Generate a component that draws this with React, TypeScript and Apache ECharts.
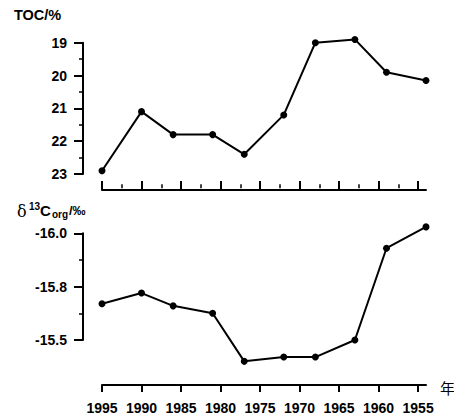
import React, { useEffect, useRef } from "react";
import * as echarts from "echarts";

const years = [1995, 1990, 1986, 1981, 1977, 1972, 1968, 1963, 1959, 1954];
const tocValues = [22.9, 21.1, 21.8, 21.8, 22.4, 21.2, 19.0, 18.9, 19.9, 20.15];
const d13cValues = [-15.67, -15.72, -15.66, -15.625, -15.4, -15.42, -15.42, -15.5, -15.93, -16.03];
const yearTicks = [1995, 1990, 1985, 1980, 1975, 1970, 1965, 1960, 1955];
const yearMinorTicks = [1992.5, 1987.5, 1982.5, 1977.5, 1972.5, 1967.5, 1962.5, 1957.5];
const tocTicks = [19, 20, 21, 22, 23];
const d13cTickLabels = ["-16.0", "-15.8", "-15.5"];

const FONT = "'Liberation Sans', Arial, sans-serif";

export default function App() {
  const ref = useRef<HTMLDivElement>(null);
  useEffect(() => {
    if (!ref.current) return;
    const chart = echarts.init(ref.current, null, { renderer: "svg" });
    const lineStyle = { color: "#000", width: 2 };
    const xBase = {
      type: "value",
      min: -1995,
      max: -1954,
      interval: 5,
      splitLine: { show: false },
    };
    const option = {
      animation: false,
      backgroundColor: "#fff",
      grid: [
        { left: 102, right: 28, top: 42.7, bottom: 245 },
        { left: 102, right: 28, top: 233.3, bottom: 79 },
      ],
      xAxis: [
        {
          ...xBase,
          gridIndex: 0,
          offset: 16,
          axisLine: { show: true, lineStyle: { color: "#000", width: 2 } },
          axisTick: {
            show: true,
            inside: true,
            length: 9,
            lineStyle: { color: "#000", width: 2 },
            customValues: yearTicks.map((y) => -y),
          },
          axisLabel: { show: false },
        },
        {
          ...xBase,
          gridIndex: 1,
          offset: 45,
          axisLine: { show: true, lineStyle: { color: "#000", width: 2 } },
          axisTick: {
            show: true,
            inside: false,
            length: 7,
            lineStyle: { color: "#000", width: 2 },
            customValues: yearTicks.map((y) => -y),
          },
          axisLabel: {
            show: true,
            margin: 16,
            color: "#000",
            fontFamily: FONT,
            fontWeight: "bold",
            fontSize: 14,
            customValues: yearTicks.map((y) => -y),
            formatter: (v: number) => String(-v),
          },
        },
        {
          ...xBase,
          gridIndex: 1,
          offset: 45,
          axisLine: { show: false },
          axisTick: {
            show: true,
            inside: false,
            length: 4,
            lineStyle: { color: "#000", width: 1.5 },
            customValues: yearMinorTicks.map((y) => -y),
          },
          axisLabel: { show: false },
        },
      ],
      yAxis: [
        {
          type: "value",
          gridIndex: 0,
          min: 19,
          max: 23,
          interval: 1,
          inverse: true,
          offset: 19,
          splitLine: { show: false },
          axisLine: { show: true, lineStyle: { color: "#000", width: 2 } },
          axisTick: { show: true, length: 9, lineStyle: { color: "#000", width: 2 } },
          minorTick: { show: true, splitNumber: 2, length: 4, lineStyle: { color: "#000", width: 1.5 } },
          axisLabel: {
            margin: 16,
            color: "#000",
            fontFamily: FONT,
            fontWeight: "bold",
            fontSize: 14,
            formatter: (v: number) => {
              const i = tocTicks.indexOf(v);
              return i >= 0 ? String(tocTicks[i]) : "";
            },
          },
        },
        {
          type: "value",
          gridIndex: 1,
          min: -16,
          max: -15.5,
          interval: 0.25,
          inverse: true,
          offset: 19,
          splitLine: { show: false },
          axisLine: { show: true, lineStyle: { color: "#000", width: 2 } },
          axisTick: { show: true, length: 9, lineStyle: { color: "#000", width: 2 } },
          minorTick: { show: true, splitNumber: 2, length: 4, lineStyle: { color: "#000", width: 1.5 } },
          axisLabel: {
            margin: 16,
            color: "#000",
            fontFamily: FONT,
            fontWeight: "bold",
            fontSize: 14,
            formatter: (v: number) => {
              const idx = Math.round((v + 16) / 0.25);
              return d13cTickLabels[idx] ?? "";
            },
          },
        },
      ],
      series: [
        {
          type: "line",
          xAxisIndex: 0,
          yAxisIndex: 0,
          clip: false,
          data: years.map((y, i) => [-y, tocValues[i]]),
          symbol: "circle",
          symbolSize: 7,
          itemStyle: { color: "#000" },
          lineStyle,
        },
        {
          type: "line",
          xAxisIndex: 1,
          yAxisIndex: 1,
          clip: false,
          data: years.map((y, i) => [-y, d13cValues[i]]),
          symbol: "circle",
          symbolSize: 7,
          itemStyle: { color: "#000" },
          lineStyle,
        },
      ],
      graphic: [
        {
          type: "text",
          x: 14,
          y: 15,
          style: { text: "TOC/%", font: `bold 14.5px ${FONT}`, fill: "#000", verticalAlign: "middle" },
        },
        {
          type: "text",
          x: 17,
          y: 211,
          style: { text: "δ", font: `16px 'DejaVu Serif', serif`, fill: "#000", verticalAlign: "middle" },
        },
        {
          type: "text",
          x: 29,
          y: 206,
          style: { text: "13", font: `bold 10px ${FONT}`, fill: "#000", verticalAlign: "middle" },
        },
        {
          type: "text",
          x: 40,
          y: 210,
          style: { text: "C", font: `bold 15px ${FONT}`, fill: "#000", verticalAlign: "middle" },
        },
        {
          type: "text",
          x: 52,
          y: 214,
          style: { text: "org", font: `bold 10px ${FONT}`, fill: "#000", verticalAlign: "middle" },
        },
        {
          type: "text",
          x: 69,
          y: 210,
          style: { text: "/‰", font: `bold 13px ${FONT}`, fill: "#000", verticalAlign: "middle" },
        },
        {
          type: "text",
          x: 440,
          y: 387,
          style: { text: "年", font: `15px 'Noto Sans CJK SC', sans-serif`, fill: "#000", verticalAlign: "middle" },
        },
      ],
    };
    chart.setOption(option as any);
    return () => chart.dispose();
  }, []);
  return <div ref={ref} style={{ width: 454, height: 419, position: "absolute", left: 0, top: 0 }} />;
}
